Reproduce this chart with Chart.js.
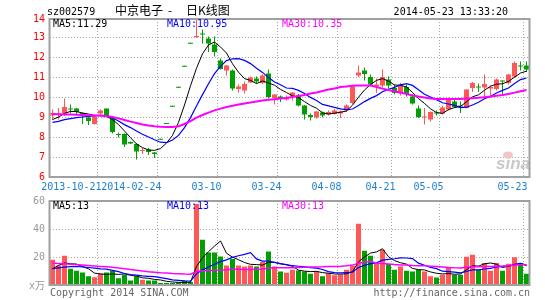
<!DOCTYPE html>
<html><head><meta charset="utf-8">
<script src="https://cdn.jsdelivr.net/npm/chart.js@4/dist/chart.umd.min.js"></script>
<style>
html,body{margin:0;padding:0;background:#fff;}
#wrap{position:relative;width:545px;height:300px;overflow:hidden;background:#fff;}
#wrap canvas{position:absolute;left:0;top:0;}
</style></head><body>
<div id="wrap">
<canvas id="k" width="545" height="300"></canvas>
<canvas id="v" width="545" height="300"></canvas>
</div>
<script>
const dates = ['2013-10-09','2013-10-10','2013-10-11','2013-10-14','2013-10-15','2013-10-16','2013-10-17','2013-10-18',
'2013-10-21','2013-10-22','2013-10-23','2013-10-24','2013-10-25','2013-10-28','2013-10-29','2013-10-30','2013-10-31','2013-11-01',
'2014-02-24','2014-02-25','2014-02-26','2014-02-27','2014-02-28','2014-03-03','2014-03-04','2014-03-05','2014-03-06','2014-03-07',
'2014-03-10','2014-03-11','2014-03-12','2014-03-13','2014-03-14','2014-03-17','2014-03-18','2014-03-19','2014-03-20','2014-03-21',
'2014-03-24','2014-03-25','2014-03-26','2014-03-27','2014-03-28','2014-03-31','2014-04-01','2014-04-02','2014-04-03','2014-04-04',
'2014-04-08','2014-04-09','2014-04-10','2014-04-11','2014-04-14','2014-04-15','2014-04-16','2014-04-17','2014-04-18',
'2014-04-21','2014-04-22','2014-04-23','2014-04-24','2014-04-25','2014-04-28','2014-04-29','2014-04-30',
'2014-05-05','2014-05-06','2014-05-07','2014-05-08','2014-05-09','2014-05-12','2014-05-13','2014-05-14','2014-05-15','2014-05-16',
'2014-05-19','2014-05-20','2014-05-21','2014-05-22','2014-05-23'];

const open  = [9.07,9.12,9.17,9.38,9.42,9.2,8.98,8.65,9.17,9.42, 8.92,8.13,8.15,7.75,7.65,7.3,7.37,7.23,7.86,8.65, 9.51,10.46,11.51,12.66,13.0,13.13,12.92,12.62,11.83,11.33, 11.33,10.4,10.32,10.73,10.92,10.7,11.17,9.95,10.03,9.87, 10.03,10.08,9.58,9.1,8.98,9.23,9.12,9.15,9.17,9.32, 9.7,11.07,11.33,11.0,10.53,10.58,10.87,10.45,10.17,10.5, 10.03,9.42,8.98,8.87,9.2,9.17,9.37,9.78,9.55,9.45, 10.45,10.52,10.48,10.42,10.4,10.82,10.7,11.03,11.55,11.57];
const high  = [9.37,9.45,9.92,9.62,9.45,9.22,9.1,9.08,9.37,9.42, 9.0,8.23,8.17,7.78,7.7,7.45,7.45,7.25,7.86,8.65, 9.51,10.46,11.51,12.66,13.88,13.37,13.03,13.03,11.92,11.6, 11.37,10.62,10.78,11.03,11.03,11.12,11.37,10.12,10.07,10.07, 10.25,10.15,9.6,9.17,9.3,9.28,9.33,9.4,9.33,9.62, 10.55,11.58,11.48,11.12,10.92,11.37,11.03,10.62,10.7,10.62, 10.15,9.58,9.45,9.27,9.32,9.58,9.98,9.87,9.78,10.38, 10.75,10.67,11.12,10.58,10.92,10.83,11.15,11.78,11.78,11.78];
const low   = [8.87,8.87,9.05,9.2,9.1,8.65,8.6,8.62,9.12,8.98, 8.17,7.98,7.5,7.65,6.88,7.15,7.1,6.95,7.86,8.65, 9.51,10.46,11.51,12.66,12.95,12.67,12.25,12.03,11.37,11.08, 10.33,10.23,10.17,10.7,10.67,10.65,9.92,9.62,9.75,9.83, 9.83,9.52,8.87,8.83,8.92,8.98,9.08,9.12,8.95,9.25, 9.65,11.0,10.83,10.58,10.2,10.48,10.42,10.12,10.08,10.03, 9.62,8.95,8.62,8.78,9.08,9.12,9.32,9.45,9.2,9.42, 10.25,10.25,9.98,9.98,10.33,10.15,10.62,10.98,11.33,11.25];
const close = [9.2,9.18,9.5,9.37,9.25,9.05,8.8,9.0,9.32,9.0, 8.25,8.1,7.62,7.68,7.28,7.35,7.25,7.15,7.86,8.65, 9.51,10.46,11.51,12.66,13.05,13.12,12.67,12.25,11.4,11.58, 10.42,10.53,10.65,10.98,10.78,11.07,10.0,10.12,9.95,9.98, 10.23,9.58,9.12,9.0,9.28,9.08,9.25,9.32,9.28,9.57, 10.53,11.23,11.15,10.62,10.62,11.0,10.58,10.2,10.57,10.15, 9.67,9.0,9.0,9.25,9.18,9.48,9.95,9.5,9.52,10.37, 10.7,10.48,10.65,10.5,10.87,10.78,11.12,11.7,11.52,11.38];

const ma5  = [8.87,9.0,9.18,9.28,9.27,9.2,9.15,9.08,9.07,9.03, 8.87,8.62,8.3,7.97,7.65,7.47,7.35,7.33,7.42,7.7, 8.08,8.73,9.6,10.56,11.44,12.16,12.6,12.75,12.5,12.2, 11.66,11.24,10.92,10.83,10.67,10.8,10.7,10.59,10.38,10.22, 10.06,9.97,9.77,9.58,9.44,9.21,9.15,9.19,9.24,9.3, 9.59,9.99,10.35,10.62,10.83,10.92,10.79,10.6,10.59,10.5, 10.23,9.92,9.68,9.41,9.22,9.18,9.37,9.47,9.53,9.76, 10.01,10.11,10.34,10.54,10.64,10.66,10.78,10.99,11.2,11.29];
const ma10 = [8.73,8.78,8.87,8.92,8.97,9.0,9.03,9.05,9.08,9.05, 8.95,8.8,8.62,8.47,8.3,8.14,8.0,7.86,7.74,7.72, 7.85,8.08,8.47,8.97,9.55,10.12,10.66,11.17,11.53,11.82, 11.91,11.92,11.83,11.67,11.44,11.23,10.97,10.75,10.61,10.45, 10.43,10.33,10.18,9.98,9.83,9.63,9.56,9.48,9.41,9.37, 9.4,9.57,9.77,9.93,10.07,10.26,10.39,10.48,10.61,10.67, 10.58,10.36,10.14,10.0,9.86,9.71,9.65,9.58,9.47,9.49, 9.6,9.74,9.91,10.03,10.2,10.33,10.45,10.67,10.87,10.95];
const ma30 = [9.15,9.14,9.13,9.12,9.11,9.1,9.09,9.08,9.07,9.05, 9.0,8.93,8.85,8.77,8.7,8.63,8.58,8.54,8.51,8.5, 8.5,8.54,8.65,8.8,8.97,9.1,9.22,9.33,9.42,9.5, 9.56,9.62,9.67,9.72,9.77,9.82,9.86,9.89,9.92,9.95, 10.0,10.05,10.1,10.17,10.23,10.3,10.37,10.43,10.5,10.53, 10.56,10.57,10.57,10.57,10.5,10.42,10.35,10.28,10.22,10.15, 10.08,10.02,9.97,9.93,9.9,9.9,9.9,9.9,9.9,9.92, 9.94,9.96,9.99,10.02,10.06,10.1,10.15,10.22,10.29,10.35];

const volume  = [18.1,14.0,20.9,11.6,10.2,9.0,6.2,5.5,8.3,9.0, 10.2,4.8,7.4,3.3,6.2,3.8,3.3,3.3,1.4,1.4, 1.4,1.9,3.1,2.2,57.8,32.4,23.3,23.3,20.4,14.0, 18.5,14.0,13.3,14.0,13.3,16.4,24.0,13.3,9.7,8.8, 10.9,10.4,9.7,8.1,9.7,6.2,8.5,6.9,7.4,10.9, 13.8,43.8,24.5,20.9,15.2,25.2,15.0,10.9,13.3,10.2, 9.7,10.9,9.7,6.2,5.4,7.4,12.1,7.4,7.4,20.2, 21.6,10.9,15.7,10.2,15.7,10.2,15.2,19.8,15.7,8.1];
const volMa5  = [11.6,14.0,15.7,15.2,14.96,13.14,11.58,8.5,7.84,7.6, 7.84,7.56,7.94,6.94,6.38,5.1,4.8,3.98,3.6,2.64, 2.16,1.88,1.84,2.0,13.28,19.48,23.76,27.8,31.44,22.68, 19.9,18.04,16.04,14.76,14.62,14.2,16.2,16.2,15.34,14.44, 13.34,10.62,9.9,9.58,9.76,8.82,8.44,7.88,7.74,7.98, 9.5,16.56,20.08,22.78,23.64,25.92,20.16,17.44,15.92,14.92, 11.82,11.0,10.76,9.34,8.38,7.92,8.16,7.7,7.94,10.9, 13.74,13.5,15.16,15.72,14.82,12.54,13.4,14.22,15.32,13.8];
const volMa10 = [11.6,12.2,12.8,13.1,13.2,13.0,12.5,12.0,11.5,11.28, 10.49,9.57,8.22,7.39,6.99,6.47,6.18,5.96,5.27,4.51, 3.63,3.34,2.91,2.8,7.96,10.82,12.82,14.82,16.72,17.98, 19.69,20.9,21.92,23.1,18.65,17.05,17.12,16.12,15.05,14.53, 13.77,13.41,13.05,12.46,12.1,11.08,9.53,8.89,8.66,8.87, 9.16,12.5,13.98,15.26,15.81,17.71,18.36,18.76,19.35,19.28, 18.87,15.58,14.1,12.63,11.65,9.87,9.58,9.23,8.64,9.64, 10.83,10.83,11.43,11.83,12.86,13.14,13.45,14.69,15.5,14.29];
const volMa30 = [15.7,15.4,15.1,14.8,14.5,14.2,13.9,13.6,13.3,13.0, 12.6,12.1,11.6,11.0,10.5,10.0,9.5,9.1,8.7,8.5, 8.2,8.0,7.8,7.7,9.6,10.2,10.4,10.5,10.6,10.9, 11.27,11.27,11.02,11.1,11.2,11.45,12.04,12.3,12.35,12.34, 12.36,12.55,12.63,12.79,12.9,12.98,13.16,13.28,13.48,13.79, 14.21,15.6,16.32,16.94,15.52,15.28,15.0,14.59,14.35,14.23, 13.93,13.83,13.71,13.45,13.19,12.89,12.49,12.29,12.22,12.6, 12.95,12.97,13.17,13.24,13.44,13.57,13.8,14.23,14.5,14.41];

const priceTicks = [6,7,8,9,10,11,12,13,14];
const volTicks = [0,20,40,60];
const volTickText = ['x万','20','40','60'];
const xLabelDates = ['2013-10-21','2014-02-24','2014-03-10','2014-03-24','2014-04-08','2014-04-21','2014-05-05','2014-05-23'];
const xLabelText  = ['2013-10-21','2014-02-24','03-10','03-24','04-08','04-21','05-05','05-23'];
const volLegend = ['MA5:13','MA10:13','MA30:13'];

const RED = '#FF5656', GREEN = '#00A000', GRID = '#A8A8A8', FRAME = '#A0A0A0';
const MONO = '10px "DejaVu Sans Mono", monospace';
const colors = close.map((c, i) => c > open[i] ? RED : GREEN);
const xIdx = xLabelDates.map(d => dates.indexOf(d));

function txt(ctx, s, x, y, color, font, align) {
  ctx.fillStyle = color; ctx.font = font; ctx.textAlign = align || 'left'; ctx.textBaseline = 'middle';
  ctx.fillText(s, x, y);
}
function frame(chart) {
  const a = chart.chartArea, ctx = chart.ctx;
  ctx.save(); ctx.strokeStyle = FRAME; ctx.lineWidth = 2;
  ctx.strokeRect(a.left, a.top, a.right - a.left, a.bottom - a.top);
  ctx.restore();
}
const xScaleOpts = (labels) => ({
  type: 'category', offset: true,
  ticks: { display: false, autoSkip: false },
  grid: { offset: true, drawTicks: false, lineWidth: 1,
          color: c => xIdx.includes(c.index) ? GRID : 'rgba(0,0,0,0)' },
  border: { display: false, dash: [1, 2] }
});
const common = {
  responsive: false, animation: false, devicePixelRatio: 1, events: [],
  plugins: { legend: { display: false }, tooltip: { enabled: false } }
};

const kPlugin = {
  id: 'kdeco',
  beforeDatasetsDraw(chart) {
    const ctx = chart.ctx; ctx.save();
    ctx.fillStyle = '#C9C9C9'; ctx.font = 'italic bold 17px "Liberation Sans", sans-serif';
    ctx.textAlign = 'left'; ctx.textBaseline = 'alphabetic';
    ctx.fillText('sina', 496, 169);
    ctx.fillStyle = '#F2C4C4'; ctx.beginPath(); ctx.ellipse(508, 155, 5, 3.5, 0, 0, Math.PI * 2); ctx.fill();
    ctx.restore();
  },
  afterDraw(chart) {
    const ctx = chart.ctx, y = chart.scales.y, x = chart.scales.x;
    ctx.save();
    frame(chart);
    priceTicks.forEach(v => txt(ctx, String(v), 45, y.getPixelForValue(Math.min(v, y.max)), '#FF0000', MONO, 'right'));
    xIdx.forEach((i, k) => txt(ctx, xLabelText[k], x.getPixelForValue(i) + 1, 187, '#1E7FD0', MONO, 'right'));
    txt(ctx, 'sz002579', 47, 12, '#000', MONO);
    txt(ctx, '中京电子', 115, 10, '#000', '12px "Noto Sans CJK SC"');
    txt(ctx, '-', 170, 10, '#000', '12px "Noto Sans CJK SC"', 'center');
    txt(ctx, '日K线图', 186, 10, '#000', '12px "Noto Sans CJK SC"');
    txt(ctx, '2014-05-23 13:33:20', 508, 12, '#000', MONO, 'right');
    const n = close.length - 1;
    txt(ctx, 'MA5:' + ma5[n].toFixed(2), 53, 24, '#000', MONO);
    txt(ctx, 'MA10:' + ma10[n].toFixed(2), 167, 24, '#0000FF', MONO);
    txt(ctx, 'MA30:' + ma30[n].toFixed(2), 282, 24, '#FF00FF', MONO);
    ctx.restore();
  }
};
const vPlugin = {
  id: 'vdeco',
  afterDraw(chart) {
    const ctx = chart.ctx, y = chart.scales.y;
    ctx.save();
    frame(chart);
    volTicks.forEach((v, k) => txt(ctx, volTickText[k], 45, y.getPixelForValue(v) + (v === 0 ? 1 : 0), '#999', v === 0 ? '10px "DejaVu Sans Mono","Noto Sans CJK SC"' : MONO, 'right'));
    txt(ctx, volLegend[0], 53, 206, '#000', MONO);
    txt(ctx, volLegend[1], 167, 206, '#0000FF', MONO);
    txt(ctx, volLegend[2], 282, 206, '#FF00FF', MONO);
    txt(ctx, 'Copyright 2014 SINA.COM', 50, 293, '#666', MONO);
    txt(ctx, 'http://finance.sina.com.cn', 530, 293, '#666', MONO, 'right');
    ctx.restore();
  }
};

const lineDs = (data, color, w) => ({ type: 'line', data, borderColor: color, borderWidth: w, pointRadius: 0, tension: 0, fill: false, order: 0 });

new Chart(document.getElementById('k'), {
  type: 'bar',
  data: {
    labels: dates,
    datasets: [
      { data: low.map((l, i) => [l, high[i]]), backgroundColor: colors, barThickness: 1, grouped: false, minBarLength: 1, inflateAmount: 0, borderWidth: 0, order: 3 },
      { data: open.map((o, i) => [o, close[i]]), backgroundColor: colors, barThickness: 5, grouped: false, minBarLength: 1, inflateAmount: 0, borderWidth: 0, order: 2 },
      lineDs(ma30, '#FF00FF', 2),
      lineDs(ma10, '#0000FF', 1.2),
      lineDs(ma5, '#000000', 1)
    ]
  },
  options: Object.assign({}, common, {
    layout: { padding: { left: 49.5, right: 15.5, top: 19, bottom: 123 } },
    scales: {
      x: xScaleOpts(),
      y: { type: 'linear', min: 6, max: 13.9,
           afterBuildTicks: s => { s.ticks = priceTicks.filter(v => v <= s.max).map(v => ({ value: v })); },
           ticks: { display: false },
           grid: { drawTicks: false, lineWidth: 1, color: c => (c.tick && c.tick.value > 6 && c.tick.value < 14) ? GRID : 'rgba(0,0,0,0)' },
           border: { display: false, dash: [1, 2] } }
    }
  }),
  plugins: [kPlugin]
});

new Chart(document.getElementById('v'), {
  type: 'bar',
  data: {
    labels: dates,
    datasets: [
      { data: volume, backgroundColor: colors, barThickness: 5, grouped: false, inflateAmount: 0, borderWidth: 0, order: 2 },
      lineDs(volMa30, '#FF00FF', 1.5),
      lineDs(volMa10, '#0000FF', 1.2),
      lineDs(volMa5, '#000000', 1)
    ]
  },
  options: Object.assign({}, common, {
    layout: { padding: { left: 49.5, right: 15.5, top: 201, bottom: 15 } },
    scales: {
      x: xScaleOpts(),
      y: { type: 'linear', min: 0, max: 60,
           afterBuildTicks: s => { s.ticks = volTicks.map(v => ({ value: v })); },
           ticks: { display: false },
           grid: { drawTicks: false, lineWidth: 1, color: c => (c.tick && c.tick.value > 0 && c.tick.value < 60) ? GRID : 'rgba(0,0,0,0)' },
           border: { display: false, dash: [1, 2] } }
    }
  }),
  plugins: [vPlugin]
});
</script>
</body></html>
